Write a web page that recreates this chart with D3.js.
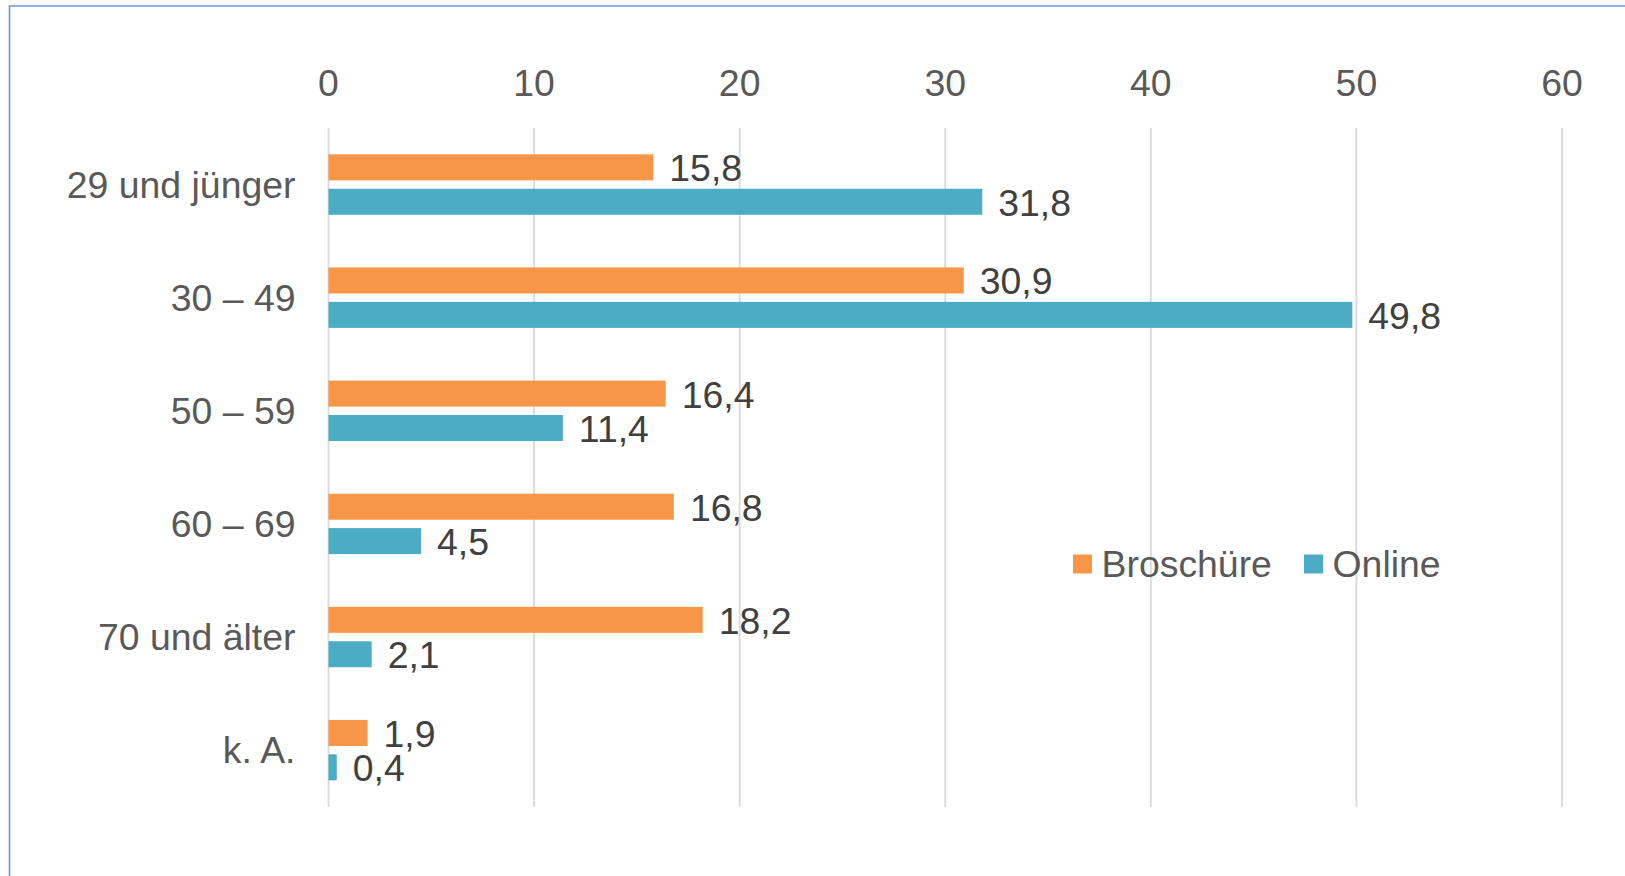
<!DOCTYPE html>
<html>
<head>
<meta charset="utf-8">
<script src="https://cdn.jsdelivr.net/npm/d3@7"></script>
<style>
  html, body { margin: 0; padding: 0; background: #fff; }
  svg { display: block; }
</style>
</head>
<body>
<div id="chart"></div>
<script>
// Chart data;
const categories = ["29 und jünger", "30 – 49", "50 – 59", "60 – 69", "70 und älter", "k. A."]
const seriesNames = ["Broschüre", "Online"]
const broschuere = [15.8, 30.9, 16.4, 16.8, 18.2, 1.9]
const online = [31.8, 49.8, 11.4, 4.5, 2.1, 0.4]
const xTicks = [0, 10, 20, 30, 40, 50, 60]

// Layout;
const width = 1625
const height = 876
const colors = ["#f79646", "#4bacc6"]
const fontFamily = "'Liberation Sans', Arial, sans-serif"
const fontSize = 37.4

const svg = d3.select("#chart").append("svg")
    .attr("width", width)
    .attr("height", height)

// Frame (only left and top edges are visible in the picture);
svg.append("path")
    .attr("d", `M9.5,${height} L9.5,6 L${width},6`)
    .attr("fill", "none")
    .attr("stroke", "#6b98d9")
    .attr("stroke-width", 1.6)

const x = d3.scaleLinear()
    .domain([0, 60])
    .range([328.5, 1562])

const y = d3.scaleBand()
    .domain(categories)
    .range([128, 806.7])

const ySeries = d3.scaleBand()
    .domain(seriesNames)
    .range([0, y.bandwidth()])
    .paddingInner(0.244)
    .paddingOuter(0.766)

// Gridlines;
svg.append("g")
    .selectAll("line")
    .data(xTicks)
    .join("line")
    .attr("x1", d => x(d))
    .attr("x2", d => x(d))
    .attr("y1", 128)
    .attr("y2", 806.7)
    .attr("stroke", "#d9d9d9")
    .attr("stroke-width", 1.8)

// Top axis labels;
svg.append("g")
    .selectAll("text")
    .data(xTicks)
    .join("text")
    .attr("x", d => x(d))
    .attr("y", 83)
    .attr("text-anchor", "middle")
    .attr("dominant-baseline", "central")
    .attr("font-family", fontFamily)
    .attr("font-size", fontSize)
    .attr("fill", "#595959")
    .text(d => d)

// Category labels;
svg.append("g")
    .selectAll("text")
    .data(categories)
    .join("text")
    .attr("x", 295.5)
    .attr("y", d => y(d) + y.bandwidth() / 2)
    .attr("text-anchor", "end")
    .attr("dominant-baseline", "central")
    .attr("font-family", fontFamily)
    .attr("font-size", fontSize)
    .attr("fill", "#595959")
    .text(d => d)

// Bars and value labels;
const rows = []
categories.forEach((c, i) => {
    rows.push({ cat: c, series: seriesNames[0], value: broschuere[i], color: colors[0] })
    rows.push({ cat: c, series: seriesNames[1], value: online[i], color: colors[1] })
})

const fmt = v => d3.format(".1f")(v).replace(".", ",")

svg.append("g")
    .selectAll("rect")
    .data(rows)
    .join("rect")
    .attr("x", x(0))
    .attr("y", d => y(d.cat) + ySeries(d.series))
    .attr("width", d => x(d.value) - x(0))
    .attr("height", ySeries.bandwidth())
    .attr("fill", d => d.color)

svg.append("g")
    .selectAll("text")
    .data(rows)
    .join("text")
    .attr("x", d => x(d.value) + 16)
    .attr("y", d => y(d.cat) + ySeries(d.series) + ySeries.bandwidth() / 2 + 1)
    .attr("dominant-baseline", "central")
    .attr("font-family", fontFamily)
    .attr("font-size", fontSize)
    .attr("fill", "#404040")
    .text(d => fmt(d.value))

// Legend;
const legendX = [1073, 1304]
const legend = svg.append("g")
    .selectAll("g")
    .data(seriesNames)
    .join("g")
    .attr("transform", (d, i) => `translate(${legendX[i]}, 564)`)

legend.append("rect")
    .attr("x", 0)
    .attr("y", -9.5)
    .attr("width", 19)
    .attr("height", 19)
    .attr("fill", (d, i) => colors[i])

legend.append("text")
    .attr("x", 28.5)
    .attr("y", 0)
    .attr("dominant-baseline", "central")
    .attr("font-family", fontFamily)
    .attr("font-size", fontSize)
    .attr("fill", "#595959")
    .text(d => d)
</script>
</body>
</html>
